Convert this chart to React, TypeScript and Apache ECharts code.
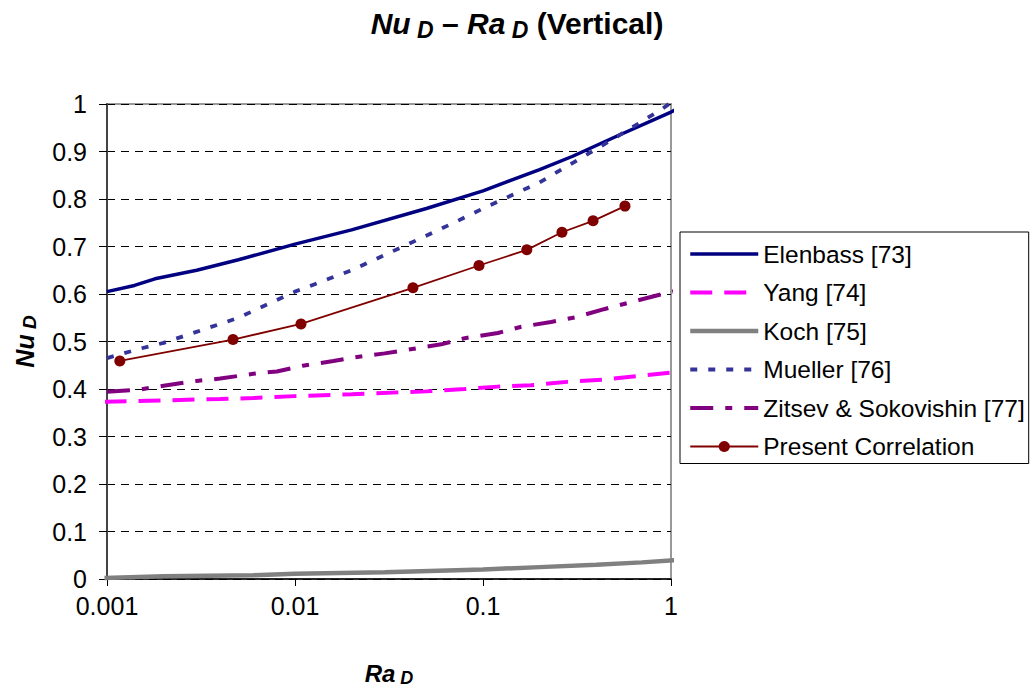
import React, { useEffect, useRef } from "react";
import * as echarts from "echarts";

const FONT = "'Liberation Sans', Arial, sans-serif";

const xTickLabels = ["0.001", "0.01", "0.1", "1"];

const elenbass: [number, number][] = [
  [0.001, 0.605], [0.0014, 0.618], [0.0018, 0.632], [0.003, 0.65], [0.005, 0.672],
  [0.01, 0.705], [0.02, 0.735], [0.05, 0.78], [0.1, 0.817], [0.2, 0.862],
  [0.3, 0.89], [0.5, 0.93], [1, 0.983], [1.08, 0.99],
];

const yang: [number, number][] = [
  [0.00097, 0.373], [0.002, 0.376], [0.004, 0.379], [0.006, 0.381], [0.01, 0.385],
  [0.02, 0.389], [0.036, 0.393], [0.05, 0.395], [0.08, 0.4], [0.12, 0.405],
  [0.18, 0.408], [0.28, 0.415], [0.44, 0.42], [0.7, 0.428], [1.08, 0.436],
];

const koch: [number, number][] = [
  [0.00097, 0.002], [0.002, 0.006], [0.006, 0.008], [0.01, 0.011], [0.03, 0.014],
  [0.1, 0.02], [0.2, 0.025], [0.4, 0.03], [0.7, 0.035], [1.08, 0.04],
];

const mueller: [number, number][] = [
  [0.001, 0.465], [0.0015, 0.485], [0.002, 0.497], [0.005, 0.55], [0.01, 0.605],
  [0.02, 0.65], [0.04, 0.705], [0.07, 0.75], [0.1, 0.78], [0.2, 0.835],
  [0.4, 0.905], [0.6, 0.947], [0.9, 0.99], [1.1, 1.015],
];

const zitsev: [number, number][] = [
  [0.001, 0.394], [0.0015, 0.399], [0.002, 0.407], [0.003, 0.417], [0.004, 0.422],
  [0.006, 0.432], [0.008, 0.437], [0.011, 0.449], [0.016, 0.459], [0.021, 0.467],
  [0.03, 0.475], [0.036, 0.48], [0.06, 0.494], [0.08, 0.507], [0.12, 0.518],
  [0.16, 0.531], [0.23, 0.541], [0.31, 0.551], [0.44, 0.568], [0.6, 0.582],
  [0.9, 0.6], [1.08, 0.607],
];

const present: [number, number][] = [
  [0.00117, 0.459], [0.00468, 0.504], [0.01076, 0.537], [0.0424, 0.613], [0.0952, 0.66],
  [0.171, 0.693], [0.263, 0.73], [0.385, 0.754], [0.569, 0.785],
];

const seriesNames = [
  "Elenbass [73]",
  "Yang [74]",
  "Koch [75]",
  "Mueller [76]",
  "Zitsev & Sokovishin [77]",
  "Present Correlation",
];

const seriesColors = ["#000080", "#FF00FF", "#808080", "#333399", "#800080", "#800000"];
const seriesWidths = [3.5, 4, 4.5, 3.8, 4, 1.8];
const seriesDash: any[] = ["solid", [22, 12], "solid", [7, 11], [23, 12, 7, 12], "solid"];

export default function App() {
  const ref = useRef<HTMLDivElement>(null);
  useEffect(() => {
    if (!ref.current) return;
    const chart = echarts.init(ref.current, undefined, { renderer: "svg" });
    const line = (i: number, data: [number, number][]) => ({
      name: seriesNames[i],
      type: "line",
      data,
      showSymbol: false,
      symbol: "none",
      clip: false,
      color: seriesColors[i],
      lineStyle: { color: seriesColors[i], width: seriesWidths[i], type: seriesDash[i], cap: "butt" },
    });
    const legendData = seriesNames.map((name, i) => ({
      name,
      itemStyle: i === 5 ? { color: seriesColors[i], opacity: 1 } : { opacity: 0 },
      lineStyle: { color: seriesColors[i], width: seriesWidths[i], type: seriesDash[i], opacity: 1 },
    }));
    chart.setOption({
      animation: false,
      backgroundColor: "#ffffff",
      textStyle: { fontFamily: FONT },
      title: {
        left: "center",
        top: 1,
        text: "{a|Nu}{s| D}{m| – }{a|Ra}{s| D}{b| (Vertical)}",
        textStyle: {
          rich: {
            a: { fontFamily: FONT, fontSize: 30, fontWeight: "bold", fontStyle: "italic", color: "#000" },
            s: { fontFamily: FONT, fontSize: 23, fontWeight: "bold", fontStyle: "italic", color: "#000", padding: [12, 0, 0, 0] },
            m: { fontFamily: FONT, fontSize: 30, fontWeight: "bold", color: "#000" },
            b: { fontFamily: FONT, fontSize: 30, fontWeight: "bold", color: "#000" },
          },
        },
      },
      grid: {
        left: 107,
        top: 104,
        right: 1034 - 671,
        bottom: 692 - 592,
        show: true,
        borderColor: "#999999",
        borderWidth: 2,
        backgroundColor: "transparent",
      },
      legend: {
        orient: "vertical",
        left: 680,
        top: 232,
        padding: [9, 4, 4, 8],
        itemWidth: 68,
        itemHeight: 14,
        itemGap: 12.5,
        itemTextGap: 6,
        borderColor: "#000",
        borderWidth: 1,
        backgroundColor: "#fff",
        data: legendData,
        textStyle: { fontFamily: FONT, fontSize: 24.5, color: "#000", lineHeight: 26 },
      },
      xAxis: {
        type: "log",
        logBase: 10,
        min: 0.001,
        max: 1,
        name: "{a|Ra}{s| D}",
        nameLocation: "middle",
        nameGap: 80,
        nameTextStyle: {
          rich: {
            a: { fontFamily: FONT, fontSize: 24, fontWeight: "bold", fontStyle: "italic", color: "#000" },
            s: { fontFamily: FONT, fontSize: 18, fontWeight: "bold", fontStyle: "italic", color: "#000", padding: [10, 0, 0, 0] },
          },
        },
        axisLine: { show: true, lineStyle: { color: "#000", width: 1.5 } },
        axisTick: { show: true, length: 7, lineStyle: { color: "#000", width: 1 } },
        minorTick: { show: false },
        splitLine: { show: false },
        axisLabel: {
          margin: 14,
          fontFamily: FONT,
          fontSize: 25,
          color: "#000",
          formatter: (v: number) => {
            const i = Math.round(Math.log10(v)) + 3;
            return xTickLabels[i] ?? String(v);
          },
        },
      },
      yAxis: {
        type: "value",
        min: 0,
        max: 1,
        interval: 0.1,
        name: "{a|Nu}{s| D}",
        nameLocation: "middle",
        nameGap: 68,
        nameRotate: 90,
        nameTextStyle: {
          rich: {
            a: { fontFamily: FONT, fontSize: 25, fontWeight: "bold", fontStyle: "italic", color: "#000" },
            s: { fontFamily: FONT, fontSize: 19, fontWeight: "bold", fontStyle: "italic", color: "#000", padding: [10, 0, 0, 0] },
          },
        },
        axisLine: { show: true, lineStyle: { color: "#444", width: 2 } },
        axisTick: { show: true, length: 8, lineStyle: { color: "#000", width: 1 } },
        splitLine: { show: true, lineStyle: { color: "#000", width: 1, type: [8, 6] } },
        axisLabel: {
          margin: 20,
          fontFamily: FONT,
          fontSize: 25,
          color: "#000",
          formatter: (v: number) => String(Math.round(v * 10) / 10),
        },
      },
      series: [
        line(0, elenbass),
        line(1, yang),
        line(2, koch),
        line(3, mueller),
        line(4, zitsev),
        {
          name: seriesNames[5],
          type: "line",
          data: present,
          clip: false,
          symbol: "circle",
          symbolSize: 11,
          showSymbol: true,
          color: seriesColors[5],
          itemStyle: { color: seriesColors[5] },
          lineStyle: { color: seriesColors[5], width: seriesWidths[5] },
        },
      ],
    });
    return () => chart.dispose();
  }, []);
  return <div ref={ref} style={{ position: "fixed", left: 0, top: 0, width: 1034, height: 692 }} />;
}
